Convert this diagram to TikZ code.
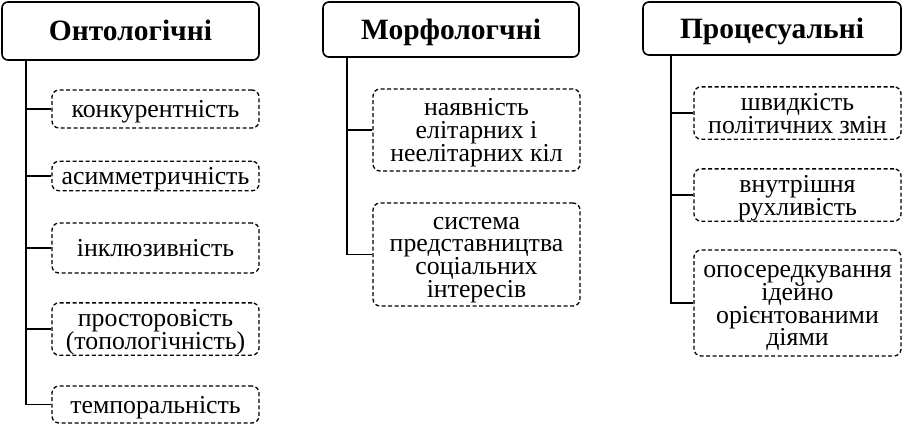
\documentclass[tikz,border=0pt]{standalone}
\usepackage{fontspec}
\setmainfont{Liberation Serif}
\setlength{\lineskiplimit}{-20pt}
\tikzset{
  head/.style={draw,line width=1.6pt,rounded corners=6pt,inner sep=0pt,text height=22pt,text depth=2.5pt,font=\fontsize{29.5}{30}\selectfont\bfseries},
  item/.style={draw,line width=1.3pt,dash pattern=on 4pt off 2.5pt,rounded corners=7pt,inner sep=0pt,align=center,minimum width=207pt,
    font=\fontsize{25.8}{22.8}\selectfont,text height=#1,text depth=6pt},
  item/.default=23.5pt,
  link/.style={line width=1.6pt}
}
\begin{document}
\begin{tikzpicture}[x=1pt,y=-1pt]
  \useasboundingbox (0,0) rectangle (905,428);
  \node[head,minimum width=257pt,minimum height=58pt] (h1) at (130.5,31) {Онтологічні};
  \node[head,minimum width=256pt,minimum height=55pt] (h2) at (451,29.5) {Морфологчні};
  \node[head,minimum width=258pt,minimum height=53pt] (h3) at (772,28.5) {Процесуальні};
  \node[item,minimum height=38pt] (k1) at (155.5,109) {конкурентність};
  \node[item,minimum height=28pt] (k2) at (155.5,176) {асимметричність};
  \node[item,minimum height=50pt] (k3) at (155.5,248) {інклюзивність};
  \node[item=46.3pt,minimum height=48pt] (k4) at (155.5,329) {просторовість\\(топологічність)};
  \node[item,minimum height=37pt] (k5) at (155.5,404.5) {темпоральність};
  \node[item=69.1pt,minimum height=82pt] (m1) at (476.5,130) {наявність\\елітарних і\\неелітарних кіл};
  \node[item=91.9pt,minimum height=103pt] (m2) at (476.5,254.5) {система\\представництва\\соціальних\\інтересів};
  \node[item=46.3pt,minimum height=50pt] (p1) at (797.5,113) {швидкість\\політичних змін};
  \node[item=46.3pt,minimum height=46pt] (p2) at (797.5,195) {внутрішня\\рухливість};
  \node[item=91.9pt,minimum height=106pt] (p3) at (797.5,303) {опосередкування\\ідейно\\орієнтованими\\діями};
  \foreach \c in {k1,k2,k3,k4,k5}
    \draw[link] ([xshift=25pt]h1.south west) |- (\c.west);
  \foreach \c in {m1,m2}
    \draw[link] ([xshift=25pt]h2.south west) |- (\c.west);
  \foreach \c in {p1,p2,p3}
    \draw[link] ([xshift=29pt]h3.south west) |- (\c.west);
\end{tikzpicture}
\end{document}
